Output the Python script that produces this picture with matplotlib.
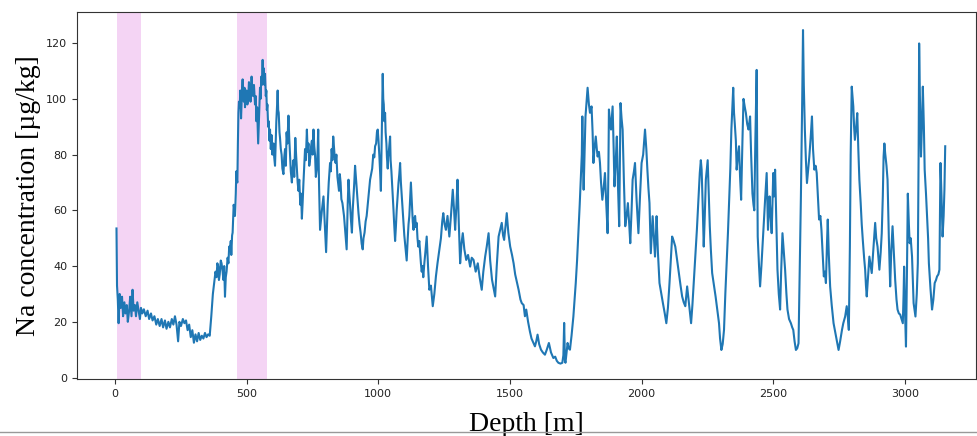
import matplotlib

matplotlib.use("Agg")
import matplotlib.pyplot as plt
from matplotlib.lines import Line2D

# shaded depth intervals [m]
highlight_spans = [(7, 99), (462, 576)]

# (depth [m], Na [ug/kg])
na_profile = [
    (6, 53.5), (8, 33), (11, 28), (14, 19.5), (18, 30), (22, 25), (27, 29), (31, 22),
    (36, 27), (40, 23), (45, 26), (49, 20), (54, 24), (58, 29), (63, 22), (67, 31.5),
    (71, 24), (76, 26), (80, 22), (85, 27), (90, 24), (95, 21), (99, 25), (104, 23),
    (110, 24.5), (117, 22), (124, 24), (130, 21), (137, 23), (143, 20.5), (150, 22),
    (157, 19), (163, 21), (170, 18.5), (177, 21), (183, 18), (190, 20.5), (196, 17.5),
    (203, 20), (209, 18), (216, 21), (222, 19), (228, 22), (234, 19), (240, 13),
    (245, 20), (251, 18.5), (258, 21), (264, 19.5), (270, 20.5), (276, 17), (282, 19),
    (288, 14.5), (294, 17), (300, 12.5), (306, 15.5), (312, 13), (318, 16), (324, 13.5),
    (330, 15), (336, 14), (342, 16), (348, 14.5), (354, 15.5), (360, 15),
    (366, 22), (372, 30), (378, 35), (382, 38), (386, 36), (389, 41), (392, 40),
    (395, 35), (398, 37), (402, 42), (405, 41), (409, 38), (412, 35), (415, 40),
    (418, 29), (421, 36), (424, 38), (428, 43), (431, 41), (434, 47), (437, 46),
    (440, 49), (442, 44), (445, 51), (447, 52), (449, 57), (451, 62), (454, 60),
    (456, 58), (459, 66), (461, 74), (463, 71), (465, 70), (467, 84),
    (469, 95), (471, 99), (474, 97), (476, 103), (479, 93), (482, 101), (485, 107),
    (487, 100), (490, 99), (492, 104), (494, 97), (497, 101), (500, 103), (503, 98),
    (506, 100), (509, 106), (512, 104), (515, 99), (519, 108), (522, 103), (525, 101),
    (528, 105), (532, 98), (535, 101), (537, 92), (540, 97), (544, 84), (546, 90),
    (548, 96), (551, 104), (553, 100), (556, 108), (558, 105), (561, 114), (563, 107),
    (565, 111), (568, 105), (570, 109), (573, 101), (575, 103), (577, 96), (579, 98),
    (582, 90), (584, 92), (587, 85), (589, 89), (592, 82), (595, 87), (598, 80),
    (602, 84), (605, 79), (608, 76), (611, 85), (613, 92), (616, 98), (618, 103),
    (620, 96), (622, 95), (625, 88), (627, 86), (630, 82), (633, 80), (636, 75),
    (640, 73), (643, 79), (646, 82), (649, 76), (652, 88), (655, 84), (659, 94),
    (662, 86), (665, 80), (668, 74), (672, 70), (675, 75), (678, 78), (681, 72),
    (685, 86), (688, 80), (691, 75), (694, 70), (697, 67), (700, 71), (704, 62),
    (707, 66), (710, 57), (713, 63), (716, 70), (719, 76), (722, 82), (725, 78),
    (729, 89), (732, 81), (735, 84), (738, 76), (742, 79), (745, 83), (748, 85),
    (751, 80), (754, 89), (757, 83), (760, 80), (763, 72), (767, 75), (770, 82),
    (772, 89), (775, 70), (779, 53),
    (786, 60), (792, 65), (797, 55), (802, 45), (808, 62), (812, 70), (817, 77),
    (820, 74), (823, 82), (826, 78), (829, 86.5), (834, 80), (838, 77), (841, 80),
    (845, 72), (851, 67), (854, 73), (857, 70), (860, 64), (864, 62.6), (870, 58),
    (875, 52), (880, 46), (884, 62), (887, 71), (890, 66), (893, 62), (896, 57),
    (900, 52), (903, 60), (906, 65), (909, 70), (912, 76), (915, 72), (918, 68),
    (922, 63), (925, 59), (929, 55), (933, 52), (937, 48), (941, 46), (944, 50),
    (948, 52), (952, 56), (956, 58), (959, 61), (962, 64), (966, 68), (969, 71),
    (973, 73), (977, 75), (981, 80), (985, 79), (988, 83), (992, 84), (995, 88),
    (998, 89), (1001, 85), (1004, 80), (1007, 74), (1010, 67), (1014, 90), (1017, 109),
    (1019, 100), (1021, 98), (1023, 92), (1026, 95), (1028, 88), (1031, 84), (1033, 79),
    (1036, 75), (1038, 79), (1041, 82), (1045, 86.5), (1047, 78), (1050, 74), (1053, 69),
    (1055, 65), (1058, 60), (1060, 56), (1064, 49), (1067, 54), (1070, 60), (1074, 66),
    (1077, 70), (1080, 73), (1083, 77), (1086, 70), (1090, 64), (1093, 59), (1096, 55.5),
    (1099, 51), (1102, 48), (1105, 45), (1108, 42), (1112, 50), (1115, 55), (1118, 58),
    (1120, 62), (1122, 66), (1124, 70), (1127, 64), (1129, 60), (1131, 56), (1134, 53),
    (1137, 57), (1140, 58), (1143, 54), (1146, 55.5), (1149, 50), (1152, 47),
    (1156, 49), (1159, 45), (1162, 41), (1165, 38), (1168, 40), (1171, 36), (1175, 41),
    (1178, 44),
    (1184, 50.6), (1189, 40), (1194, 31.5), (1200, 33), (1207, 25.6), (1213, 30),
    (1219, 36.3), (1225, 41), (1232, 45.8), (1238, 50), (1243, 56), (1247, 59),
    (1252, 55), (1257, 53), (1263, 58), (1270, 50.6), (1276, 58), (1283, 67.4),
    (1288, 60), (1292, 53), (1297, 62), (1301, 71), (1306, 55), (1311, 41), (1316, 48),
    (1321, 51.8), (1327, 46), (1334, 42.2), (1341, 44), (1349, 39.8), (1355, 43),
    (1362, 42.2), (1370, 38), (1378, 41), (1385, 36), (1393, 31.5), (1399, 38),
    (1406, 43.4), (1412, 47), (1419, 51.8), (1425, 42), (1432, 35.1), (1438, 32),
    (1444, 29.1), (1450, 40), (1457, 50.6), (1463, 53), (1469, 55.5), (1474, 51),
    (1478, 49.4), (1483, 54), (1488, 59), (1494, 52), (1501, 47), (1508, 44),
    (1514, 41), (1520, 37), (1527, 34), (1533, 31.5), (1540, 28), (1545, 26.7),
    (1552, 26), (1557, 22), (1562, 24.4), (1569, 20), (1576, 16.5),
    (1582, 14), (1589, 12.5), (1595, 11.2), (1600, 13), (1605, 15.4), (1611, 12),
    (1618, 10), (1625, 9), (1633, 8.2), (1640, 10), (1648, 12.4), (1656, 9), (1665, 7),
    (1672, 7.5), (1678, 6), (1684, 5.3), (1692, 5), (1699, 5.3), (1703, 8),
    (1706, 19.6), (1709, 6), (1711, 5.3), (1715, 9), (1719, 12.4), (1723, 10.5),
    (1728, 10), (1734, 15), (1741, 21.9), (1745, 27), (1750, 33.9), (1755, 42),
    (1760, 51.8), (1765, 62), (1770, 73.4), (1773, 80), (1775, 93.7), (1778, 75),
    (1780, 67.4), (1784, 82), (1787, 93.7), (1791, 99), (1795, 104), (1800, 98),
    (1804, 95), (1810, 97.3), (1814, 88), (1817, 77), (1821, 82), (1826, 86.5),
    (1830, 82), (1833, 79.3), (1838, 81), (1842, 77), (1846, 70), (1851, 63.8),
    (1856, 68), (1861, 73.4), (1866, 62), (1871, 51.8), (1874, 75), (1876, 96.2),
    (1880, 92), (1884, 89), (1887, 93), (1890, 97.3), (1894, 82), (1897, 68.6),
    (1902, 78), (1906, 86.5), (1910, 70), (1915, 54.3), (1918, 80), (1920, 98.5),
    (1924, 93), (1928, 89), (1933, 70), (1938, 54.3), (1943, 58), (1948, 62.6),
    (1953, 55), (1957, 48.2), (1962, 60), (1966, 71), (1971, 74), (1975, 77),
    (1981, 63.8), (1988, 51.8), (1994, 65), (2000, 77), (2006, 80), (2013, 89),
    (2018, 82), (2022, 74.6), (2026, 68), (2030, 62.6), (2035, 44.6), (2039, 52),
    (2042, 57.9), (2047, 50), (2051, 43.4), (2054, 50), (2057, 57.9), (2062, 45),
    (2068, 33.9), (2075, 30), (2081, 26.7), (2088, 23), (2094, 19.5), (2100, 25),
    (2106, 33.9), (2111, 42), (2116, 50.6), (2122, 49), (2128, 47), (2135, 42),
    (2141, 37.5), (2148, 33), (2154, 29.1), (2160, 27), (2166, 25.6), (2173, 32.7),
    (2180, 26.7), (2184, 23), (2188, 19.5), (2193, 26), (2198, 33.9), (2204, 43),
    (2210, 53), (2216, 64), (2221, 73.4), (2225, 78), (2228, 74.6), (2232, 62),
    (2236, 47), (2240, 58), (2244, 71), (2248, 75), (2251, 78), (2255, 66),
    (2259, 54.3), (2263, 46), (2268, 37.5), (2275, 33), (2281, 29.1), (2288, 24),
    (2294, 19.5), (2298, 14), (2303, 9.9), (2308, 12), (2313, 17.1), (2318, 30),
    (2323, 41), (2328, 52), (2332, 62.6), (2337, 75), (2341, 89), (2345, 98),
    (2348, 104), (2351, 95), (2354, 91), (2358, 85), (2361, 74.6), (2366, 80),
    (2370, 83), (2374, 72), (2378, 63.8), (2383, 85), (2387, 100), (2392, 97),
    (2396, 95), (2401, 91), (2406, 89), (2412, 93.7), (2416, 80), (2421, 66),
    (2425, 62), (2428, 60), (2432, 85), (2437, 110.4), (2439, 80), (2441, 50.6),
    (2446, 40), (2450, 32.7), (2455, 40), (2459, 47), (2464, 56), (2469, 63.8),
    (2475, 73.4), (2480, 53), (2486, 65), (2490, 58), (2494, 51.8), (2500, 73.4),
    (2503, 65), (2507, 74.6), (2512, 55), (2516, 38.7), (2521, 30), (2526, 24.4),
    (2530, 38), (2535, 51.8), (2540, 45), (2545, 38.7), (2550, 30), (2554, 24.4),
    (2560, 21), (2567, 19.5), (2572, 18), (2576, 17.1), (2581, 13), (2586, 9.9),
    (2591, 10.5), (2596, 12.3), (2600, 35), (2605, 65), (2610, 100), (2613, 124.7),
    (2616, 105), (2620, 89), (2624, 78), (2628, 69.8), (2632, 74), (2637, 79.3),
    (2642, 86), (2647, 93.7), (2651, 82), (2656, 74.6), (2661, 76), (2665, 73.4),
    (2670, 64), (2674, 56.7), (2679, 58), (2683, 53), (2688, 44), (2692, 36.3),
    (2696, 38), (2700, 33.9), (2704, 48), (2707, 56.7), (2711, 44), (2716, 32.7),
    (2722, 26), (2729, 19.5), (2734, 17), (2739, 14.7), (2744, 12), (2748, 9.9),
    (2754, 13), (2761, 17.1), (2766, 19.5), (2773, 21.9), (2779, 25.6), (2783, 22),
    (2787, 17.1), (2791, 47), (2794, 80), (2798, 104.4), (2801, 101), (2804, 97.3),
    (2807, 90), (2810, 85.3), (2815, 90), (2819, 94.9), (2823, 82), (2827, 71),
    (2832, 62.6), (2836, 55), (2840, 49.4), (2845, 43), (2849, 38.7), (2852, 33),
    (2855, 29.1), (2860, 36), (2865, 43.4), (2870, 40), (2874, 37.5), (2880, 46),
    (2887, 55.5), (2891, 50), (2896, 47), (2900, 42), (2903, 38.7), (2908, 45),
    (2912, 51.8), (2916, 65), (2919, 79.3), (2922, 84), (2925, 80.5), (2930, 76),
    (2934, 71), (2939, 50), (2944, 32.7), (2948, 45), (2953, 54.3), (2958, 45),
    (2963, 35.1), (2968, 28), (2972, 24.4), (2977, 23), (2982, 22.6), (2987, 21),
    (2992, 19.5), (2995, 30), (2997, 39.8), (3000, 25), (3004, 11.1), (3008, 40),
    (3011, 66), (3015, 55), (3018, 48.2), (3022, 50), (3027, 43.4), (3030, 35),
    (3033, 26.7), (3037, 24), (3040, 21.9), (3045, 30), (3049, 41), (3052, 80),
    (3054, 119.9), (3057, 100), (3061, 79.3), (3065, 92), (3068, 104.4), (3072, 90),
    (3075, 74.6), (3080, 66), (3084, 57.9), (3088, 50), (3091, 41), (3097, 32),
    (3103, 24.4), (3108, 28), (3113, 33.9), (3118, 35), (3122, 36.3), (3127, 37),
    (3131, 38.7), (3133, 60), (3135, 77), (3139, 65), (3143, 50.6), (3147, 58),
    (3150, 67.4), (3153, 83),
]

depth_m = [d for d, _ in na_profile]
na_ugkg = [v for _, v in na_profile]

fig = plt.figure(figsize=(9.77, 4.36), dpi=100)
ax = fig.add_axes([0.0788, 0.1296, 0.9202, 0.843])

for start, end in highlight_spans:
    ax.axvspan(start, end, color="m", alpha=0.17, lw=0)

ax.plot(depth_m, na_ugkg, color="#1f77b4", lw=1.5)

ax.set_xlim(-144, 3270)
ax.set_ylim(-0.7, 131.2)
for spine in ax.spines.values():
    spine.set_edgecolor("#333333")
ax.tick_params(labelsize=8, color="#333333", labelcolor="#222222")
ax.set_xlabel("Depth [m]", fontsize=20, family="Liberation Serif", labelpad=9)
ax.set_ylabel("Na concentration [µg/kg]", fontsize=20, family="Liberation Serif")

# thin grey rule along the bottom edge, as in the reference
fig.add_artist(Line2D([0, 1], [0.009, 0.009], color="#999999", lw=1))

fig.savefig("out.png", dpi=100)
